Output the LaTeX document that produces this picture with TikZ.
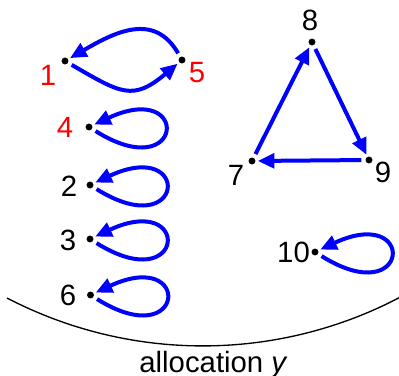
\documentclass[tikz,border=0pt]{standalone}
\usepackage{fontspec}
\setmainfont{Liberation Sans}
\usetikzlibrary{arrows.meta,positioning}

\begin{document}
\begin{tikzpicture}[
  x=0.75pt,
  y=0.75pt,
  vtx/.style={circle, fill=black, inner sep=0pt, minimum size=5.2pt},
  num/.style={inner sep=0pt, font=\fontsize{22}{26}\selectfont},
  hot/.style={num, text=red},
  link/.style={draw=blue, line width=3pt, -{Triangle[length=12.5pt,width=11pt]}, shorten >=1.5pt, shorten <=3pt},
  selfloop/.style={link, out=-32, in=25, min distance=82pt},
  every node/.style={font=\fontsize{22}{26}\selectfont}
]
\useasboundingbox (0,0) rectangle (399,375);

% vertices
\node[vtx] (n1) at (65,314) {};
\node[vtx] (n5) at (182,315) {};
\node[vtx] (n4) at (89,248) {};
\node[vtx] (n2) at (90,190) {};
\node[vtx] (n3) at (90,136) {};
\node[vtx] (n6) at (90.5,80) {};
\node[vtx] (n8) at (312,333) {};
\node[vtx] (n7) at (252,214) {};
\node[vtx] (n9) at (369,215) {};
\node[vtx] (n10) at (315,123) {};

% vertex numbers
\node[hot] (t1) at (48,300) {1};
\node[hot] (t5) at (197,302) {5};
\node[hot] (t4) at (65,248) {4};
\node[num] (t2) at (69,189) {2};
\node[num] (t3) at (68,135) {3};
\node[num] (t6) at (68,80) {6};
\node[num] (t8) at (310,355) {8};
\node[num] (t7) at (236,200) {7};
\node[num] (t9) at (383,203) {9};
\node[num] (t10) at (293.5,123) {10};

% allocation
\draw[link] (n5) to[out=120, in=30, looseness=1.2] (n1);
\draw[link] (n1) to[out=-30, in=-140, looseness=1.4] (n5);
\draw[selfloop] (n4) to (n4);
\draw[selfloop] (n2) to (n2);
\draw[selfloop] (n3) to (n3);
\draw[selfloop] (n6) to (n6);
\draw[selfloop] (n10) to (n10);
\draw[link] (n7) -- (n8);
\draw[link] (n8) -- (n9);
\draw[link] (n9) -- (n7);

% bracket
\coordinate (arcL) at (7,77);
\draw[line width=1pt] (arcL) arc[start angle=242.5, end angle=299, radius=424];
\node[anchor=base] (cap) at (213.5,3) {allocation \textit{y}};
\end{tikzpicture}
\end{document}
